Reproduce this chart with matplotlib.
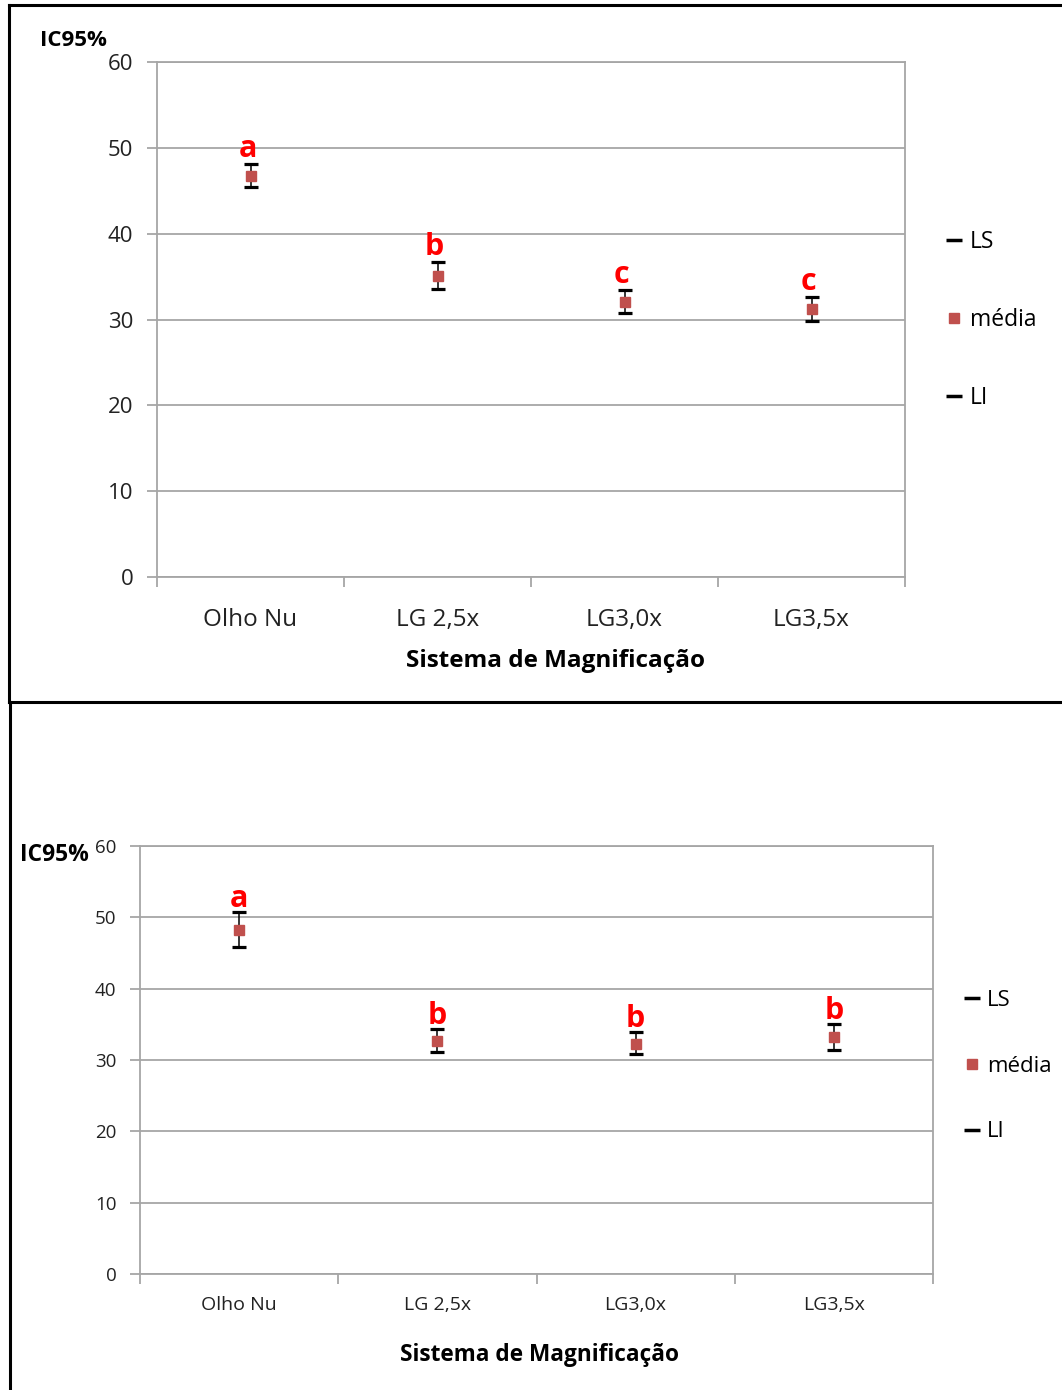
import matplotlib
matplotlib.use("Agg")
import matplotlib.pyplot as plt
from matplotlib.lines import Line2D

plt.rcParams['font.family'] = ['Open Sans', 'DejaVu Sans']

categories = ["Olho Nu", "LG 2,5x", "LG3,0x", "LG3,5x"]

# Top chart
top_ls = [48.1, 36.7, 33.4, 32.6]
top_mean = [46.7, 35.1, 32.0, 31.2]
top_li = [45.4, 33.5, 30.8, 29.8]
top_letters = ["a", "b", "c", "c"]

# Bottom chart
bot_ls = [50.7, 34.3, 33.9, 35.0]
bot_mean = [48.2, 32.6, 32.3, 33.2]
bot_li = [45.9, 31.1, 30.8, 31.4]
bot_letters = ["a", "b", "b", "b"]

yticks = [0, 10, 20, 30, 40, 50, 60]

W, H = 1062, 1390
fig = plt.figure(figsize=(W / 100, H / 100), dpi=100)

RED = "#C0504D"
GRID = "#A6A6A6"


def px_axes(x0, y0, x1, y1):
    return fig.add_axes([x0 / W, 1 - y1 / H, (x1 - x0) / W, (y1 - y0) / H])


def draw(ax, ls, mean, li, letters, tick_fs, cat_fs, cat_pad, letter_fs, cap_ms, sq_ms,
         letter_off, letter_dx):
    x = list(range(len(categories)))
    ax.set_xlim(-0.5, len(categories) - 0.5)
    ax.set_ylim(0, 60)
    ax.set_yticks(yticks)
    ax.yaxis.grid(True, color=GRID, lw=1.3)
    ax.set_axisbelow(True)
    for s in ax.spines.values():
        s.set_color(GRID)
        s.set_linewidth(1.3)
    ax.set_xticks([i - 0.5 for i in range(len(categories) + 1)])
    ax.set_xticklabels([])
    ax.set_xticks(x, minor=True)
    ax.set_xticklabels(categories, minor=True, fontsize=cat_fs, color="#222222")
    ax.tick_params(axis="x", which="major", direction="out", length=7, color=GRID, width=1.3)
    ax.tick_params(axis="x", which="minor", length=0, pad=cat_pad)
    ax.tick_params(axis="y", direction="out", length=7, color=GRID, width=1.3,
                   labelsize=tick_fs, labelcolor="#222222", pad=10)
    ax.vlines(x, li, ls, color="black", lw=1.1, zorder=3)
    ax.plot(x, ls, ls="none", marker="_", ms=cap_ms, mew=2.3, color="black", zorder=4)
    ax.plot(x, li, ls="none", marker="_", ms=cap_ms, mew=2.3, color="black", zorder=4)
    ax.plot(x, mean, ls="none", marker="s", ms=sq_ms, color=RED, zorder=5)
    for xi, yi, t in zip(x, ls, letters):
        ax.annotate(t, (xi, yi), xytext=(letter_dx, letter_off), textcoords="offset points",
                    ha="center", va="baseline", color="red", fontsize=letter_fs,
                    fontweight="bold")


ax1 = px_axes(157, 62, 905, 577)
draw(ax1, top_ls, top_mean, top_li, top_letters, 16, 17.5, 22, 22, 9.5, 6.5, 5, -2)
ax2 = px_axes(140, 846, 933, 1274)
draw(ax2, bot_ls, bot_mean, bot_li, bot_letters, 13.5, 14, 16, 22, 9.5, 6.5, 3.5, 0)

fig.text(556 / W, 1 - 661 / H, "Sistema de Magnificação", fontsize=17.5, fontweight="bold",
         ha="center", va="center")
fig.text(540 / W, 1 - 1355 / H, "Sistema de Magnificação", fontsize=16.3, fontweight="bold",
         ha="center", va="center")

fig.text(40 / W, 1 - 40 / H, "IC95%", fontsize=16, fontweight="bold", va="center", ha="left")
fig.text(20 / W, 1 - 855 / H, "IC95%", fontsize=16.5, fontweight="bold", va="center", ha="left")


def legend(x0, yc, spacing, fs):
    handles = [
        Line2D([], [], ls="none", marker="_", ms=11, mew=2.5, color="black"),
        Line2D([], [], ls="none", marker="s", ms=7, color=RED),
        Line2D([], [], ls="none", marker="_", ms=11, mew=2.5, color="black"),
    ]
    fig.legend(handles, ["LS", "média", "LI"], loc="center left",
               bbox_to_anchor=(x0 / W, 1 - yc / H), frameon=False, fontsize=fs,
               labelspacing=spacing, handlelength=0.7, handletextpad=0.35,
               borderpad=0, borderaxespad=0)


legend(946, 320, 2.35, 16.5)
legend(964, 1066, 2.02, 16)

# panel borders
fig.add_artist(Line2D([9 / W, 9 / W], [1 - 5 / H, 1 - 702 / H], color="black", lw=2.2, transform=fig.transFigure))
fig.add_artist(Line2D([9 / W, 1], [1 - 5 / H, 1 - 5 / H], color="black", lw=2.2, transform=fig.transFigure))
fig.add_artist(Line2D([9 / W, 1], [1 - 702 / H, 1 - 702 / H], color="black", lw=2.2, transform=fig.transFigure))
fig.add_artist(Line2D([10 / W, 10 / W], [1 - 702 / H, 0], color="black", lw=2.2, transform=fig.transFigure))

fig.savefig("out.png", dpi=100)
